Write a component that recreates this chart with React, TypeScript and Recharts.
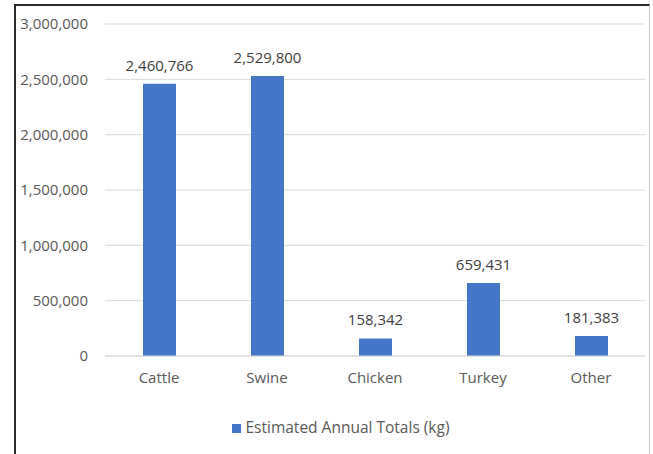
import React from 'react';
import { BarChart, Bar, XAxis, YAxis, CartesianGrid, Legend, LabelList } from 'recharts';

const categories = ['Cattle', 'Swine', 'Chicken', 'Turkey', 'Other'];
const totals = [2460766, 2529800, 158342, 659431, 181383];
const yTicks = [0, 500000, 1000000, 1500000, 2000000, 2500000, 3000000];

const data = categories.map((name, i) => ({ name, total: totals[i] }));

const fmt = (v: any) => Number(v).toLocaleString('en-US');
const font = '"Open Sans", sans-serif';
const textColor = '#595959';

export default function App() {
    return (
        <div style={{ position: 'absolute', left: 0, top: 0, width: 653, height: 454, background: '#fff', overflow: 'hidden', fontFamily: font }}>
            <div
                style={{
                    position: 'absolute',
                    left: 14,
                    top: 4,
                    width: 633,
                    height: 470,
                    borderTop: '2px solid #2a2a2a',
                    borderLeft: '2px solid #2a2a2a',
                    borderRight: '1px solid #c8c8c8',
                }}
            />
            <div style={{ position: 'absolute', left: 0, top: 0 }}>
                <BarChart
                    width={653}
                    height={454}
                    data={data}
                    margin={{ top: 24, right: 8, left: 15, bottom: 14 }}
                    barSize={33}
                >
                    <CartesianGrid stroke="#d9d9d9" vertical={false} />
                    <XAxis
                        dataKey="name"
                        height={60}
                        axisLine={{ stroke: '#d9d9d9' }}
                        tickLine={false}
                        tickSize={0}
                        tickMargin={16}
                        tick={{ fill: textColor, fontSize: 15, fontFamily: font }}
                    />
                    <YAxis
                        width={90}
                        domain={[0, 3000000]}
                        ticks={yTicks}
                        axisLine={false}
                        tickLine={false}
                        tickSize={0}
                        tickMargin={17}
                        tickFormatter={fmt}
                        tick={{ fill: textColor, fontSize: 15, fontFamily: font }}
                    />
                    <Legend
                        verticalAlign="bottom"
                        height={24}
                        iconType="square"
                        iconSize={9}
                        wrapperStyle={{ paddingLeft: 16 }}
                        formatter={(value) => (
                            <span style={{ color: textColor, fontSize: 15.5, fontFamily: font }}>{value}</span>
                        )}
                    />
                    <Bar dataKey="total" name="Estimated Annual Totals (kg)" fill="#4478c7" isAnimationActive={false}>
                        <LabelList
                            dataKey="total"
                            position="top"
                            offset={13}
                            formatter={fmt}
                            style={{ fill: '#404040', fontSize: 15, fontFamily: font }}
                        />
                    </Bar>
                </BarChart>
            </div>
        </div>
    );
}
